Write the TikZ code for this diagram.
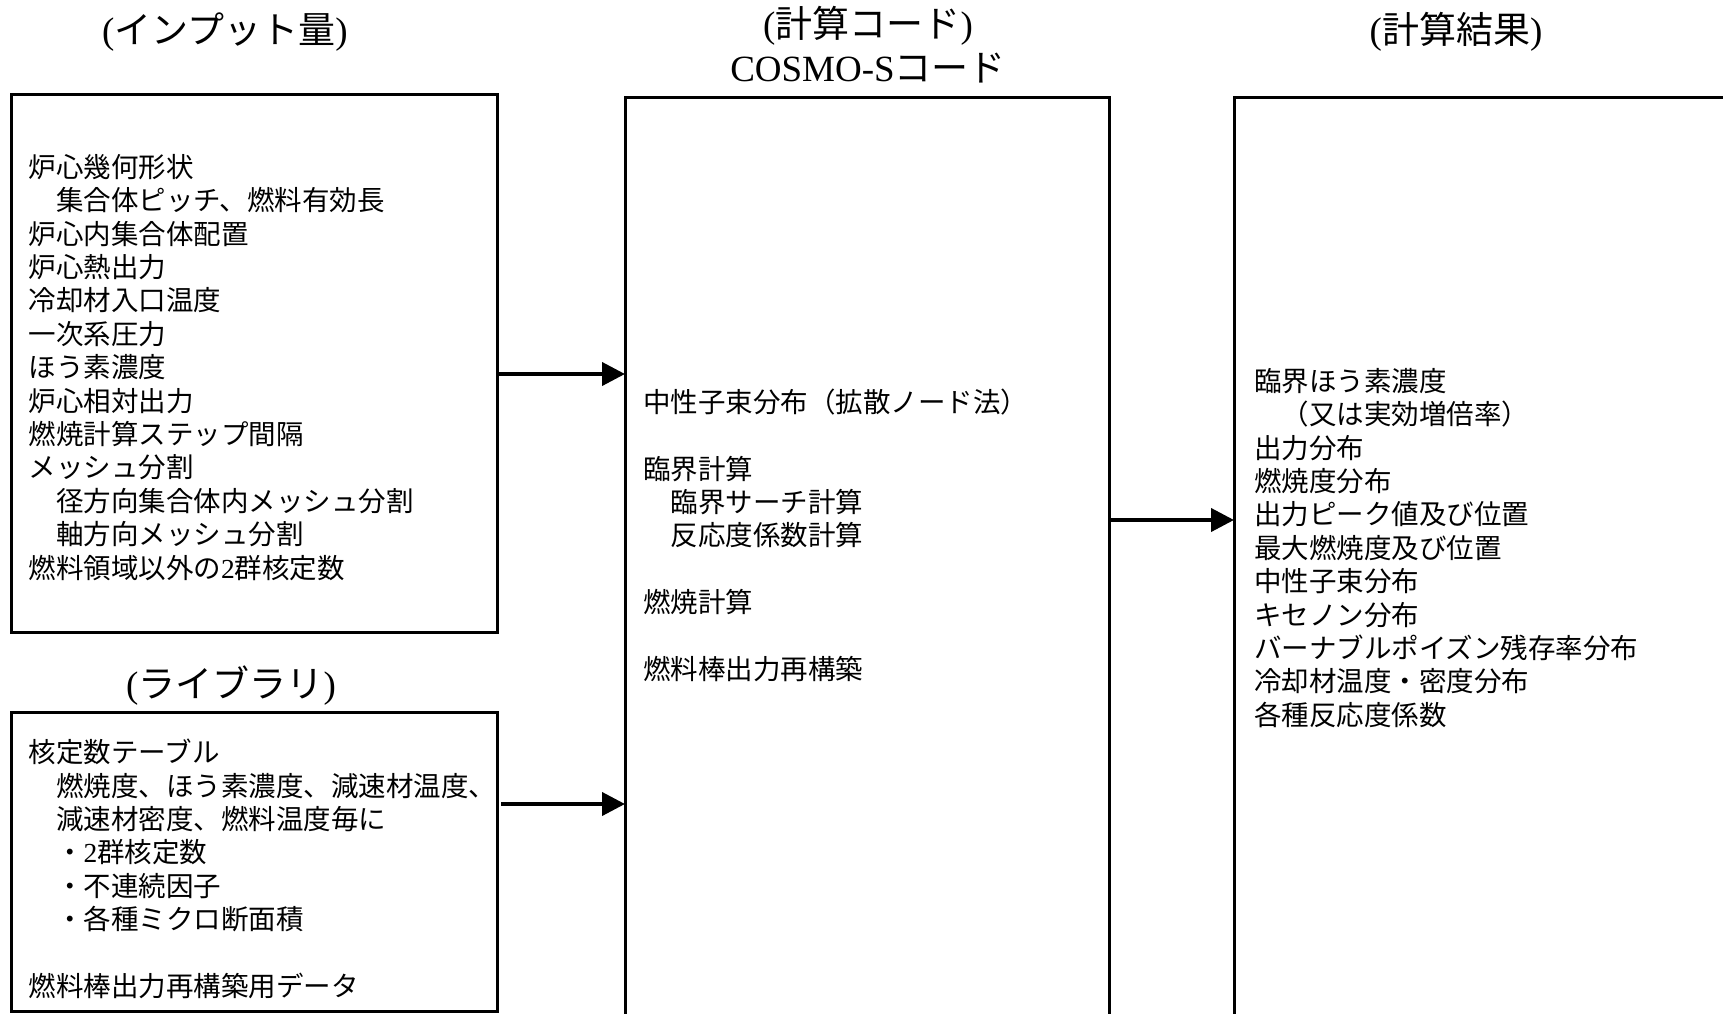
\documentclass[tikz,border=0pt]{standalone}
\usepackage{fontspec}
\setmainfont{Liberation Serif}
\newfontfamily\jp{Noto Sans CJK JP}
\usetikzlibrary{arrows.meta}
\newcommand\topstrut{\vrule height 22pt depth 0pt width 0pt}
\begin{document}
\begin{tikzpicture}[x=1pt,y=-1pt,
  box/.style={draw, line width=3pt, inner sep=0pt, outer sep=0pt, anchor=north west},
  body/.style={anchor=north west, align=left, inner sep=0pt, font=\jp\fontsize{27.5}{33.4}\selectfont},
  title/.style={anchor=base, inner sep=0pt, font=\fontsize{37}{44}\selectfont},
  arr/.style={line width=4pt, -{Triangle[length=23pt,width=23pt]}}]
\useasboundingbox (0,0) rectangle (1723,1014);

% titles
\node[title] (t1) at (225,44) {({\jp インプット量})};
\node[title] (t2) at (868,38) {({\jp 計算コード})};
\node[title] (t3) at (868,82) {COSMO-S{\jp コード}};
\node[title] (t4) at (1456,44) {({\jp 計算結果})};
\node[title] (t5) at (231,697) {({\jp ライブラリ})};

% boxes
\node[box, minimum width=486pt, minimum height=537.5pt] (inbox) at (11,94.5) {};
\node[box, minimum width=486pt, minimum height=299pt] (libbox) at (11,712) {};
\node[box, minimum width=484pt, minimum height=960pt] (codebox) at (625,98) {};
\node[box, minimum width=530pt, minimum height=960pt] (resbox) at (1234,98) {};

% texts
\node[body] (intext) at (28.5,154) {\topstrut 炉心幾何形状\\
　集合体ピッチ、燃料有効長\\
炉心内集合体配置\\
炉心熱出力\\
冷却材入口温度\\
一次系圧力\\
ほう素濃度\\
炉心相対出力\\
燃焼計算ステップ間隔\\
メッシュ分割\\
　径方向集合体内メッシュ分割\\
　軸方向メッシュ分割\\
燃料領域以外の{\rmfamily 2}群核定数};

\node[body] (libtext) at (28.5,739) {\topstrut 核定数テーブル\\
　燃焼度、ほう素濃度、減速材温度、\\
　減速材密度、燃料温度毎に\\
　・{\rmfamily 2}群核定数\\
　・不連続因子\\
　・各種ミクロ断面積\\
\mbox{}\\
燃料棒出力再構築用データ};

\node[body] (codetext) at (643,388.5) {\topstrut 中性子束分布（拡散ノード法）\\
\mbox{}\\
臨界計算\\
　臨界サーチ計算\\
　反応度係数計算\\
\mbox{}\\
燃焼計算\\
\mbox{}\\
燃料棒出力再構築};

\node[body] (restext) at (1254,368) {\topstrut 臨界ほう素濃度\\
　（又は実効増倍率）\\
出力分布\\
燃焼度分布\\
出力ピーク値及び位置\\
最大燃焼度及び位置\\
中性子束分布\\
キセノン分布\\
バーナブルポイズン残存率分布\\
冷却材温度・密度分布\\
各種反応度係数};

% arrows
\coordinate (y1) at (0,374);
\coordinate (y2) at (0,804);
\coordinate (y3) at (0,520);
\draw[arr] (inbox.east |- y1) -- (codebox.west |- y1);
\draw[arr, shorten <=4pt] (libbox.east |- y2) -- (codebox.west |- y2);
\draw[arr] (codebox.east |- y3) -- (resbox.west |- y3);
\end{tikzpicture}
\end{document}
